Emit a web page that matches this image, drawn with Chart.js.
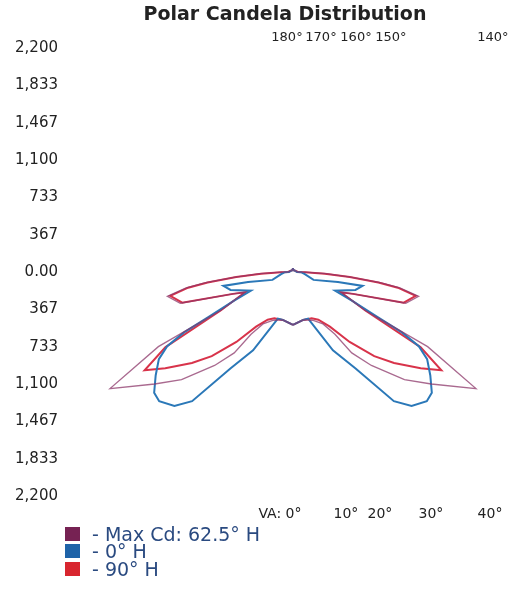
<!DOCTYPE html>
<html><head><meta charset="utf-8">
<script src="https://cdn.jsdelivr.net/npm/chart.js@4"></script>
<style>
body{margin:0;background:#fff;}
#wrap{position:relative;width:508px;height:590px;overflow:hidden;}
#legend{position:absolute;left:65px;top:525px;font-family:'DejaVu Sans',sans-serif;font-size:19px;color:#2a4a80;}
.item{display:flex;align-items:center;height:17.5px;white-space:nowrap;}
.box{width:15px;height:14px;margin-right:12px;flex:none;}
</style></head><body>
<div id="wrap"><canvas id="c" width="508" height="525"></canvas><div id="legend"></div></div>
<script>
// ---- data (vertical angle in degrees, candela) ----
const chartTitle = 'Polar Candela Distribution';
const seriesNames = ['- Max Cd: 62.5° H', '- 0° H', '- 90° H'];

const maxCdAngles = [0, 12, 22, 30, 34, 36, 40, 46, 51, 57.5, 61, 62, 67, 70, 74.5, 79, 81.5, 83, 85, 87, 89, 90, 150, 175, 180];
const maxCdValues = [520, 481, 511, 589, 737, 982, 1198, 1522, 1748, 2131, 1512, 805, 511, 628, 1149, 1257, 1061, 864, 570, 324, 118, 49, 20, 20, 39];

const h0Angles = [0, 12, 18, 27, 33, 38, 41.5, 46, 49, 53, 57, 59.5, 61, 62, 64, 66, 74, 78.7, 77.5, 69, 80, 89, 90, 150, 175, 180];
const h0Values = [520, 481, 481, 864, 1129, 1610, 1758, 1827, 1807, 1689, 1571, 1434, 1228, 933, 648, 452, 638, 697, 452, 216, 118, 79, 39, 20, 20, 39];

const h90Angles = [0, 12, 22, 28, 34, 39, 44, 48, 53, 56.5, 59.5, 62, 67, 70, 74.5, 79, 81.5, 83, 85, 87, 89, 90, 150, 175, 180];
const h90Values = [520, 481, 491, 530, 648, 884, 1149, 1336, 1571, 1748, 1453, 805, 511, 628, 1129, 1228, 1041, 845, 560, 314, 118, 49, 20, 20, 39];

const yTickValues = [2200, 1833.33, 1466.67, 1100, 733.33, 366.67, 0, -366.67, -733.33, -1100, -1466.67, -1833.33, -2200];
const yTickLabels = ['2,200', '1,833', '1,467', '1,100', '733', '367', '0.00', '367', '733', '1,100', '1,467', '1,833', '2,200'];
const topAngleLabels = ['180°', '170°', '160°', '150°', '140°'];
const bottomAngleLabels = ['VA: 0°', '10°', '20°', '30°', '40°'];

// ---- presentation ----
const lineColors = ['rgba(140,55,105,0.75)', '#2b78b8', '#d8334a'];
const lineWidths = [1.3, 2, 2];
const legendColors = ['#762253', '#1e63a8', '#d8262f'];
const topTickPos = [-59, 275, 619, 962, 1964];
const bottomTickPos = [-128, 520, 854, 1355, 1935];

function polarLoop(angles, values) {
  const pts = [];
  const rad = a => a * Math.PI / 180;
  for (let i = 0; i < angles.length; i++) {
    pts.push({x: values[i] * Math.sin(rad(angles[i])), y: -values[i] * Math.cos(rad(angles[i]))});
  }
  for (let i = angles.length - 1; i >= 0; i--) {
    pts.push({x: -values[i] * Math.sin(rad(angles[i])), y: -values[i] * Math.cos(rad(angles[i]))});
  }
  return pts;
}

const seriesData = [polarLoop(maxCdAngles, maxCdValues), polarLoop(h0Angles, h0Values), polarLoop(h90Angles, h90Values)];

Chart.defaults.font.family = "'DejaVu Sans', sans-serif";
Chart.defaults.color = '#222';

const noPadX = s => { s.paddingLeft = 0; s.paddingRight = 0; };

new Chart(document.getElementById('c'), {
  type: 'scatter',
  data: {
    datasets: seriesData.map((d, i) => ({
      label: seriesNames[i],
      data: d,
      showLine: true,
      tension: 0,
      pointRadius: 0,
      borderColor: lineColors[i],
      backgroundColor: lineColors[i],
      borderWidth: lineWidths[i],
      fill: false
    }))
  },
  options: {
    responsive: false,
    animation: false,
    layout: {padding: 0},
    plugins: {legend: {display: false}, tooltip: {enabled: false}, title: {display: false}},
    scales: {
      x: {
        type: 'linear', position: 'bottom', min: -2269, max: 2112,
        grid: {display: false, drawTicks: false}, border: {display: false},
        afterBuildTicks: s => { s.ticks = bottomTickPos.map(v => ({value: v})); },
        afterFit: s => { s.height = 29; noPadX(s); },
        ticks: {autoSkip: false, maxRotation: 0, padding: 10, font: {size: 14},
          callback: (v, i) => bottomAngleLabels[i]}
      },
      x2: {
        type: 'linear', axis: 'x', position: 'top', min: -2269, max: 2112,
        grid: {display: false, drawTicks: false}, border: {display: false},
        afterBuildTicks: s => { s.ticks = topTickPos.map(v => ({value: v})); },
        afterFit: s => { s.height = 48; noPadX(s); },
        ticks: {autoSkip: false, maxRotation: 0, padding: 3, font: {size: 13},
          callback: (v, i) => topAngleLabels[i]},
        title: {display: true, text: chartTitle, color: '#222',
          font: {size: 19, weight: 'bold'}, padding: {top: 4, bottom: 0}}
      },
      y: {
        type: 'linear', position: 'left', min: -2200, max: 2200,
        grid: {display: false, drawTicks: false}, border: {display: false},
        afterBuildTicks: s => { s.ticks = yTickValues.map(v => ({value: v})); },
        afterFit: s => { s.width = 62; s.paddingTop = 0; s.paddingBottom = 0; },
        ticks: {autoSkip: false, padding: 4, font: {size: 15},
          callback: (v, i) => yTickLabels[i]}
      }
    }
  }
});

const legend = document.getElementById('legend');
seriesNames.forEach((n, i) => {
  const row = document.createElement('div');
  row.className = 'item';
  const b = document.createElement('span');
  b.className = 'box';
  b.style.background = legendColors[i];
  const t = document.createElement('span');
  t.textContent = n;
  row.appendChild(b); row.appendChild(t);
  legend.appendChild(row);
});
</script>
</body></html>
